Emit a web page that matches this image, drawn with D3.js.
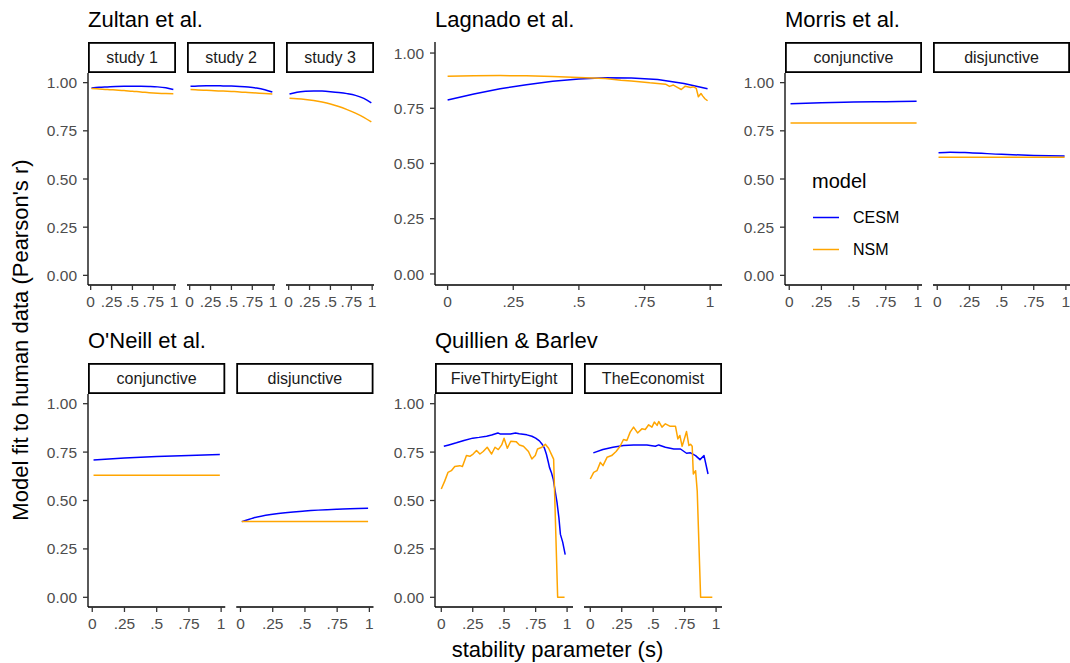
<!DOCTYPE html>
<html lang="en">
  <head>
    <meta charset="UTF-8" />
    <title>Model fit by stability parameter</title>
    <script src="https://d3js.org/d3.v7.min.js"></script>
    <style>
      body {
        margin: 0;
        padding: 0;
        background-color: #ffffff;
      }
      svg text {
        font-family: "Liberation Sans", Arial, sans-serif;
      }
    </style>
  </head>
  <body>
    <div id="chart"></div>

    <script>
      // -----------------------------
      // 1. Data
      // -----------------------------
      const modelNames = ["CESM", "NSM"];
      const modelColors = ["blue", "orange"];

      const yTicks = [0, 0.25, 0.5, 0.75, 1];
      const yTickLabels = ["0.00", "0.25", "0.50", "0.75", "1.00"];
      const xTicks = [0, 0.25, 0.5, 0.75, 1];
      const xTickLabels = ["0", ".25", ".5", ".75", "1"];

      // smooth curves are sampled on a coarse grid of s
      const sGrid = [0.01, 0.1, 0.2, 0.3, 0.4, 0.5, 0.6, 0.7, 0.8, 0.9, 0.99];
      const sGridFull = [0, 0.1, 0.2, 0.3, 0.4, 0.5, 0.6, 0.7, 0.8, 0.9, 0.99];
      const sQuarter = [0.01, 0.25, 0.5, 0.75, 0.99];
      const sDisj = [0.01, 0.1, 0.25, 0.5, 0.75, 0.99];

      // Zultan et al.
      const zultan1CESM = [0.972, 0.976, 0.978, 0.98, 0.981, 0.981, 0.981, 0.98, 0.978, 0.973, 0.964];
      const zultan1NSM = [0.969, 0.967, 0.965, 0.962, 0.959, 0.955, 0.952, 0.948, 0.945, 0.943, 0.942];
      const zultan2CESM = [0.981, 0.983, 0.984, 0.984, 0.983, 0.982, 0.98, 0.977, 0.972, 0.963, 0.951];
      const zultan2NSM = [0.964, 0.962, 0.96, 0.958, 0.956, 0.954, 0.952, 0.949, 0.946, 0.943, 0.941];
      const zultan3CESM = [0.941, 0.95, 0.955, 0.957, 0.956, 0.953, 0.949, 0.943, 0.934, 0.918, 0.895];
      const zultan3NSM = [0.919, 0.917, 0.913, 0.907, 0.899, 0.889, 0.876, 0.86, 0.842, 0.82, 0.796];

      // Lagnado et al.
      const lagnadoCESM = [0.787, 0.815, 0.838, 0.857, 0.872, 0.882, 0.888, 0.887, 0.88, 0.862, 0.838];
      const lagnadoNSM = [
        [0, 0.895], [0.1, 0.897], [0.2, 0.898], [0.3, 0.897], [0.4, 0.894],
        [0.5, 0.889], [0.6, 0.885], [0.66, 0.877], [0.7, 0.874], [0.77, 0.865],
        [0.8, 0.862], [0.83, 0.859], [0.845, 0.849], [0.86, 0.855], [0.875, 0.845],
        [0.89, 0.835], [0.905, 0.85], [0.925, 0.844], [0.937, 0.847], [0.947, 0.84],
        [0.955, 0.802], [0.965, 0.817], [0.972, 0.805], [0.98, 0.793], [0.99, 0.784],
      ];

      // Morris et al.
      const morrisConjCESM = [0.891, 0.896, 0.899, 0.901, 0.903];
      const morrisConjNSM = [0.791, 0.791, 0.791, 0.791, 0.791];
      const morrisDisjCESM = [0.636, 0.639, 0.636, 0.628, 0.622, 0.619];
      const morrisDisjNSM = [0.613, 0.613, 0.613, 0.613, 0.613, 0.613];

      // O'Neill et al.
      const oneillConjCESM = [0.709, 0.719, 0.727, 0.733, 0.737];
      const oneillConjNSM = [0.63, 0.63, 0.63, 0.63, 0.631];
      const oneillDisjCESM = [0.391, 0.41, 0.429, 0.446, 0.455, 0.46];
      const oneillDisjNSM = [0.391, 0.391, 0.391, 0.391, 0.391, 0.391];

      // Quillien & Barlev (noisy, given as [s, r] pairs)
      const fteCESM = [
        [0.02, 0.78], [0.06, 0.787], [0.12, 0.798], [0.18, 0.81], [0.25, 0.822],
        [0.3, 0.826], [0.36, 0.832], [0.4, 0.838], [0.45, 0.849], [0.47, 0.843],
        [0.5, 0.844], [0.55, 0.843], [0.59, 0.849], [0.62, 0.845], [0.68, 0.839],
        [0.72, 0.832], [0.75, 0.822], [0.78, 0.808], [0.8, 0.792], [0.82, 0.77],
        [0.835, 0.74], [0.85, 0.7], [0.86, 0.671], [0.875, 0.645], [0.89, 0.61],
        [0.905, 0.55], [0.92, 0.49], [0.935, 0.41], [0.947, 0.325], [0.965, 0.285],
        [0.985, 0.22],
      ];
      const fteNSM = [
        [0, 0.559], [0.027, 0.6], [0.053, 0.645], [0.08, 0.654], [0.107, 0.676],
        [0.147, 0.68], [0.168, 0.676], [0.2, 0.732], [0.227, 0.728], [0.253, 0.74],
        [0.28, 0.758], [0.307, 0.74], [0.333, 0.753], [0.365, 0.775], [0.4, 0.74],
        [0.427, 0.775], [0.453, 0.763], [0.48, 0.787], [0.499, 0.822], [0.525, 0.77],
        [0.552, 0.806], [0.595, 0.804], [0.621, 0.787], [0.653, 0.78], [0.693, 0.753],
        [0.72, 0.714], [0.747, 0.732], [0.765, 0.766], [0.8, 0.775], [0.827, 0.79],
        [0.853, 0.77], [0.88, 0.732], [0.893, 0.714], [0.925, 0], [0.98, 0],
      ];
      const econCESM = [
        [0.024, 0.746], [0.1, 0.763], [0.18, 0.775], [0.264, 0.784], [0.344, 0.787],
        [0.45, 0.787], [0.517, 0.78], [0.544, 0.787], [0.597, 0.775], [0.664, 0.766],
        [0.717, 0.766], [0.765, 0.744], [0.797, 0.746], [0.837, 0.732], [0.872, 0.711],
        [0.904, 0.732], [0.936, 0.637],
      ];
      const econNSM = [
        [0, 0.611], [0.027, 0.645], [0.053, 0.654], [0.08, 0.697], [0.101, 0.68],
        [0.133, 0.723], [0.17, 0.732], [0.205, 0.753], [0.237, 0.78], [0.264, 0.815],
        [0.291, 0.81], [0.317, 0.853], [0.344, 0.879], [0.376, 0.849], [0.41, 0.87],
        [0.437, 0.867], [0.464, 0.891], [0.49, 0.879], [0.509, 0.905], [0.531, 0.888],
        [0.544, 0.908], [0.57, 0.879], [0.597, 0.896], [0.632, 0.884], [0.677, 0.884],
        [0.696, 0.818], [0.712, 0.836], [0.73, 0.78], [0.744, 0.81], [0.765, 0.856],
        [0.784, 0.784], [0.797, 0.79], [0.81, 0.78], [0.819, 0.637], [0.837, 0.654],
        [0.85, 0.55], [0.877, 0], [0.97, 0],
      ];

      // -----------------------------
      // 2. Layout
      // -----------------------------
      const width = 1070;
      const height = 663;
      const stripH = 31;
      const panelGap = 11;
      const tickColor = "#333333";
      const tickTextColor = "#4D4D4D";

      const pairs = (s, r) => s.map((d, i) => [d, r[i]]);

      const groups = [
        {
          title: "Zultan et al.",
          box: [88, 42, 374, 285],
          xDomain: [-0.032, 1.022],
          panels: [
            { strip: "study 1", series: [pairs(sGrid, zultan1CESM), pairs(sGrid, zultan1NSM)], smooth: true },
            { strip: "study 2", series: [pairs(sGrid, zultan2CESM), pairs(sGrid, zultan2NSM)], smooth: true },
            { strip: "study 3", series: [pairs(sGrid, zultan3CESM), pairs(sGrid, zultan3NSM)], smooth: true },
          ],
        },
        {
          title: "Lagnado et al.",
          box: [435, 42, 722, 285],
          xDomain: [-0.048, 1.045],
          panels: [
            { strip: null, series: [pairs(sGridFull, lagnadoCESM), lagnadoNSM], smooth: false },
          ],
        },
        {
          title: "Morris et al.",
          box: [785, 42, 1070, 285],
          xDomain: [-0.033, 1.032],
          panels: [
            { strip: "conjunctive", series: [pairs(sQuarter, morrisConjCESM), pairs(sQuarter, morrisConjNSM)], smooth: true },
            { strip: "disjunctive", series: [pairs(sDisj, morrisDisjCESM), pairs(sDisj, morrisDisjNSM)], smooth: true },
          ],
        },
        {
          title: "O'Neill et al.",
          box: [88, 363, 373.5, 607],
          xDomain: [-0.033, 1.032],
          panels: [
            { strip: "conjunctive", series: [pairs(sQuarter, oneillConjCESM), pairs(sQuarter, oneillConjNSM)], smooth: true },
            { strip: "disjunctive", series: [pairs(sDisj, oneillDisjCESM), pairs(sDisj, oneillDisjNSM)], smooth: true },
          ],
        },
        {
          title: "Quillien & Barlev",
          box: [435, 363, 722, 607],
          xDomain: [-0.05, 1.047],
          panels: [
            { strip: "FiveThirtyEight", series: [fteCESM, fteNSM], smooth: false },
            { strip: "TheEconomist", series: [econCESM, econNSM], smooth: false },
          ],
        },
      ];

      const svg = d3
        .select("#chart")
        .append("svg")
        .attr("width", width)
        .attr("height", height)
        .style("background-color", "#ffffff");

      // -----------------------------
      // 3. Draw each group of facets
      // -----------------------------
      function drawGroup(group) {
        const [left, top, right, bottom] = group.box;
        const n = group.panels.length;
        const pw = (right - left - panelGap * (n - 1)) / n;
        const g = svg.append("g");

        // group title
        g.append("text")
          .attr("x", left)
          .attr("y", top - 15)
          .attr("font-size", 22)
          .attr("fill", "#000")
          .text(group.title);

        group.panels.forEach((panel, i) => {
          const x0 = left + i * (pw + panelGap);
          const plotTop = panel.strip ? top + stripH : top;

          const x = d3.scaleLinear().domain(group.xDomain).range([x0, x0 + pw]);
          const y = d3.scaleLinear().domain([-0.05, 1.05]).range([bottom, plotTop]);

          // strip
          if (panel.strip) {
            g.append("rect")
              .attr("x", x0 + 0.9)
              .attr("y", top + 0.9)
              .attr("width", pw - 1.8)
              .attr("height", stripH - 1.8)
              .attr("fill", "#fff")
              .attr("stroke", "#000")
              .attr("stroke-width", 1.8);
            g.append("text")
              .attr("x", x0 + pw / 2)
              .attr("y", top + stripH / 2)
              .attr("dy", "0.36em")
              .attr("text-anchor", "middle")
              .attr("font-size", 16)
              .attr("fill", "#1A1A1A")
              .text(panel.strip);
          }

          // lines
          const line = d3
            .line()
            .x((d) => x(d[0]))
            .y((d) => y(d[1]))
            .curve(panel.smooth ? d3.curveMonotoneX : d3.curveLinear);

          panel.series.forEach((data, k) => {
            g.append("path")
              .datum(data)
              .attr("d", line)
              .attr("fill", "none")
              .attr("stroke", modelColors[k])
              .attr("stroke-width", 1.5)
              .attr("stroke-linejoin", "round");
          });

          // x axis
          g.append("line")
            .attr("x1", x0)
            .attr("x2", x0 + pw)
            .attr("y1", bottom)
            .attr("y2", bottom)
            .attr("stroke", "#000")
            .attr("stroke-width", 1.3);

          xTicks.forEach((t, j) => {
            g.append("line")
              .attr("x1", x(t))
              .attr("x2", x(t))
              .attr("y1", bottom)
              .attr("y2", bottom + 5)
              .attr("stroke", tickColor)
              .attr("stroke-width", 1.3);
            g.append("text")
              .attr("x", x(t))
              .attr("y", bottom + 21.5)
              .attr("text-anchor", "middle")
              .attr("font-size", 15.5)
              .attr("fill", tickTextColor)
              .text(xTickLabels[j]);
          });

          // y axis only on the first panel
          if (i === 0) {
            g.append("line")
              .attr("x1", x0)
              .attr("x2", x0)
              .attr("y1", plotTop)
              .attr("y2", bottom)
              .attr("stroke", "#000")
              .attr("stroke-width", 1.3);

            yTicks.forEach((t, j) => {
              g.append("line")
                .attr("x1", x0 - 5)
                .attr("x2", x0)
                .attr("y1", y(t))
                .attr("y2", y(t))
                .attr("stroke", tickColor)
                .attr("stroke-width", 1.3);
              g.append("text")
                .attr("x", x0 - 11)
                .attr("y", y(t))
                .attr("dy", "0.36em")
                .attr("text-anchor", "end")
                .attr("font-size", 15.5)
                .attr("fill", tickTextColor)
                .text(yTickLabels[j]);
            });
          }
        });
      }

      groups.forEach(drawGroup);

      // -----------------------------
      // 4. Axis titles and legend
      // -----------------------------
      svg
        .append("text")
        .attr("x", 557.5)
        .attr("y", 657)
        .attr("text-anchor", "middle")
        .attr("font-size", 22)
        .attr("fill", "#000")
        .text("stability parameter (s)");

      svg
        .append("text")
        .attr("transform", "translate(28,340) rotate(-90)")
        .attr("text-anchor", "middle")
        .attr("font-size", 22)
        .attr("fill", "#000")
        .text("Model fit to human data (Pearson's r)");

      const legend = svg.append("g").attr("transform", "translate(812,188)");
      legend
        .append("text")
        .attr("x", 0)
        .attr("y", 0)
        .attr("font-size", 20)
        .attr("fill", "#000")
        .text("model");

      modelNames.forEach((name, i) => {
        const ly = 29.5 + i * 32;
        legend
          .append("line")
          .attr("x1", 1)
          .attr("x2", 27)
          .attr("y1", ly)
          .attr("y2", ly)
          .attr("stroke", modelColors[i])
          .attr("stroke-width", 1.5);
        legend
          .append("text")
          .attr("x", 41)
          .attr("y", ly)
          .attr("dy", "0.36em")
          .attr("font-size", 16)
          .attr("fill", "#000")
          .text(name);
      });
    </script>
  </body>
</html>
